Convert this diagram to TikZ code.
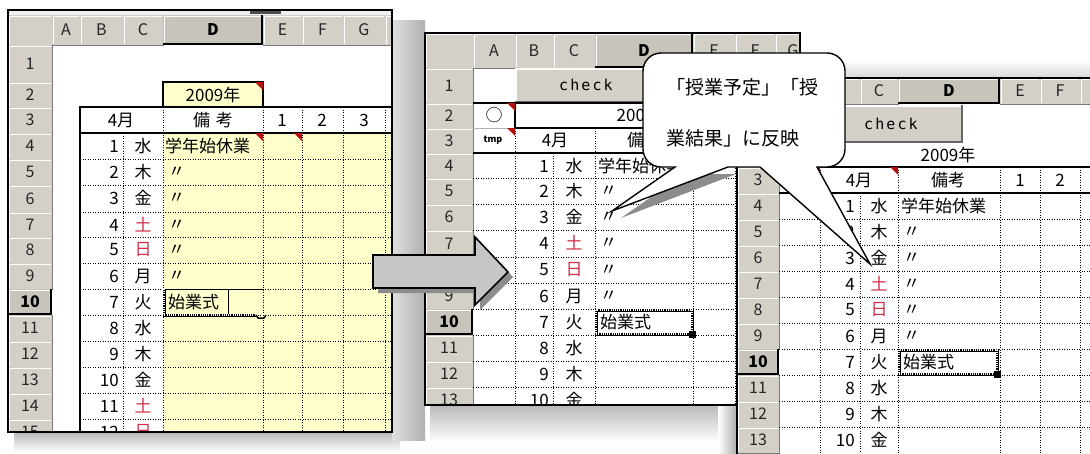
\documentclass[tikz,border=0pt]{standalone}
\usepackage{fontspec}
\setmainfont{Noto Sans CJK JP}
\newfontfamily\jp{Noto Sans CJK JP}
\newfontfamily\monof[LetterSpace=14]{DejaVu Sans Mono}
\definecolor{hdr}{HTML}{D4D0C8}
\definecolor{hdrsel}{HTML}{C8C4BC}
\definecolor{hdrdk}{HTML}{7A7A7A}
\definecolor{cellyel}{HTML}{FFFFCC}
\definecolor{dayred}{HTML}{D0304A}
\definecolor{cmt}{HTML}{B81010}
\definecolor{arrowfill}{HTML}{C6C6C6}
\tikzset{
  hdrtxt/.style={font=\jp\fontsize{16}{16}\selectfont, inner sep=0pt, text=black!85},
  hdrseltxt/.style={font=\jp\bfseries\fontsize{16}{16}\selectfont, inner sep=0pt},
  celltxt/.style={font=\jp\fontsize{17}{17}\selectfont, inner sep=0pt},
  btntxt/.style={font=\monof\fontsize{15}{15}\selectfont, inner sep=0pt},
  dotg/.style={line width=0.9pt, dash pattern=on 0.9pt off 1.6pt},
  selout/.style={line width=3pt, black},
  selin/.style={line width=1.2pt, white, dash pattern=on 1pt off 1.2pt},
  solidg/.style={line width=1.3pt},
  frame/.style={line width=1.6pt},
  callouttxt/.style={font=\jp\fontsize{19}{19}\selectfont, inner sep=0pt, anchor=west},
}
\newcommand\hcell[6]{%
  \fill[hdr] (#1,#2) rectangle (#3,#4);
  \draw[white,line width=1pt] (#1+1,#4-1) -- (#1+1,#2+1) -- (#3-1,#2+1);
  \draw[hdrdk,line width=0.8pt] (#1,#4) -- (#3,#4) -- (#3,#2);
  \node[hdrtxt] (#5) at ({(#1+#3)/2},{(#2+#4)/2}) {#6};}
\newcommand\hselcell[6]{%
  \fill[hdrsel] (#1,#2) rectangle (#3,#4);
  \draw[white,line width=1pt] (#1+1,#4-1) -- (#1+1,#2+1) -- (#3-1,#2+1);
  \draw[black,line width=1.8pt] (#1,#4-0.9) -- (#3-0.9,#4-0.9) -- (#3-0.9,#2);
  \node[hdrseltxt] (#5) at ({(#1+#3)/2},{(#2+#4)/2}) {#6};}
\newcommand\cmtri[2]{\fill[cmt] (#1-8,#2) -- (#1,#2) -- (#1,#2+8) -- cycle;}
\newcommand\btncell[5]{%
  \fill[hdr] (#1,#2) rectangle (#3,#4);
  \draw[white,line width=1.2pt] (#1+1,#4-1) -- (#1+1,#2+1) -- (#3-1,#2+1);
  \draw[black!60,line width=1.4pt] (#1,#4) -- (#3,#4) -- (#3,#2);
  \node[btntxt] (#5) at ({(#1+#3)/2},{(#2+#4)/2}) {check};}
\newcommand\selrect[4]{%
  \draw[selout] (#1,#2) rectangle (#3,#4);
  \draw[selin] (#1,#2) rectangle (#3,#4);
  \fill (#3-3.5,#4-3.5) rectangle (#3+3.5,#4+3.5);}
\begin{document}
\begin{tikzpicture}[x=1pt,y=-1pt]
\useasboundingbox (0,0) rectangle (1090,453);
\clip (0,0) rectangle (1090,453);
\fill[white] (0,0) rectangle (1090,453);

% ---------- shadows ----------
\shade[top color=gray!55,bottom color=white] (14,432) rectangle (400,452);
\shade[left color=gray!25,right color=gray!62] (392,20) rectangle (425,440);
\shade[top color=gray!55,bottom color=white] (430,405) rectangle (737,442);
\shade[left color=white,right color=gray!65] (718,405) rectangle (737,453);
\shade[top color=white,bottom color=gray!30] (800,60) rectangle (1090,78);

% ================= LEFT SHEET =================
\fill[white] (8,10) rectangle (392,432);
\begin{scope}
\clip (8,10) rectangle (392,432);
\fill[gray!12] (8,10) rectangle (392,15);
\fill[black!70] (250,10) rectangle (281,14);
\fill[cellyel] (163,133) rectangle (392,432);
\fill[cellyel] (163,82) rectangle (263,107);
\hcell{8}{15}{52}{45}{L-corner}{}
\foreach \a/\b/\l in {52/80/A,80/123/B,123/163/C,263/302/E,302/343/F,343/385/G}
  {\hcell{\a}{15}{\b}{45}{L-c\l}{\l}}
\hcell{385}{15}{430}{45}{L-cH}{}
\hselcell{163}{15}{263}{45}{L-cD}{D}
\foreach \t/\b/\l in {45/82/1,82/107/2,107/133/3,133/159/4,159/185/5,185/212/6,212/237/7,237/263/8,263/289/9,315/341/11,341/367/12,367/393/13,393/419/14,419/445/15}
  {\hcell{8}{\t}{52}{\b}{L-r\l}{\l}}
\hselcell{8}{289}{52}{315}{L-r10}{10}
% grid
\draw[solidg] (163,107) -- (163,82) -- (263,82) -- (263,107);
\draw[solidg] (80,432) -- (80,107) -- (392,107);
\draw[solidg] (80,133) -- (392,133);
\foreach \x in {163,263,302,343,385} \draw[dotg] (\x,107) -- (\x,432);
\draw[dotg] (123,133) -- (123,432);
\foreach \y in {159,185,212,237,263,289,315,341,367,393,419} \draw[dotg] (80,\y) -- (392,\y);
\cmtri{263}{82}
\cmtri{263}{133}
\cmtri{302}{133}
% texts
\node[celltxt] (L-year) at (213,95) {2009年};
\node[celltxt] (L-month) at (121,120) {4月};
\node[celltxt] (L-note) at (213,120) {備\hspace{6pt}考};
\node[celltxt] (L-h1) at (282,120) {1};
\node[celltxt] (L-h2) at (322,120) {2};
\node[celltxt] (L-h3) at (364,120) {3};
\foreach \t/\d/\w/\c [count=\i] in {133/1/水/black,159/2/木/black,185/3/金/black,212/4/土/dayred,237/5/日/dayred,263/6/月/black,289/7/火/black,315/8/水/black,341/9/木/black,367/10/金/black,393/11/土/dayred,419/12/日/dayred}
  {\node[celltxt,anchor=east] (L-n\i) at (119,\t+13) {\d};
   \node[celltxt,text=\c] (L-w\i) at (143,\t+13) {\w};}
\node[celltxt,anchor=west] (L-e4) at (165,146) {学年始休業};
\foreach \t [count=\i] in {159,185,212,237,263}
  \node[celltxt,anchor=west] (L-dt\i) at (168,\t+13) {〃};
\node[celltxt,anchor=west] (L-e10) at (168,302) {始業式};
\draw[line width=1pt] (163,289.5) -- (263,289.5);
\draw[line width=1pt] (228,289.5) -- (228,315);
\draw[selout] (164,289) -- (164,315) -- (256,315);
\draw[selin] (164,289) -- (164,315) -- (256,315);
\draw[line width=1.5pt] (256,315) -- (258,318) -- (264,318) -- (266,315);
\end{scope}
\draw[frame] (8,10) rectangle (392,432);

% ================= MIDDLE SHEET =================
\fill[white] (425,33) rectangle (800,405);
\begin{scope}
\clip (425,33) rectangle (800,405);
\hcell{425}{33}{473}{68}{M-corner}{}
\foreach \a/\b/\l in {473/515/A,515/553/B,553/595/C,693/735/E,735/775/F,775/811/G}
  {\hcell{\a}{33}{\b}{68}{M-c\l}{\l}}
\hselcell{595}{33}{693}{68}{M-cD}{D}
\foreach \t/\b/\l in {68/103/1,103/128/2,128/153/3,153/178/4,178/204/5,204/230/6,230/257/7,257/283/8,283/309/9,335/361/11,361/387/12,387/413/13}
  {\hcell{425}{\t}{473}{\b}{M-r\l}{\l}}
\hselcell{425}{309}{473}{335}{M-r10}{10}
\btncell{515}{68}{657}{102}{M-check}
% grid
\draw[solidg] (473,103) -- (800,103);
\draw[solidg] (515,103) -- (515,128);
\draw[gray!60,line width=0.8pt] (473,128) -- (515,128);
\draw[solidg] (515,128) -- (800,128);
\draw[solidg] (473,153) -- (800,153);
\foreach \x in {515,595,693,735,775} \draw[dotg] (\x,128) -- (\x,405);
\draw[dotg] (553,153) -- (553,405);
\foreach \y in {178,204,230,257,283,309,335,361,387} \draw[dotg] (473,\y) -- (800,\y);
\cmtri{515}{103}
\cmtri{515}{128}
% texts
\node[celltxt] (M-o) at (494,115) {○};
\node[font=\jp\bfseries\fontsize{9}{9}\selectfont, inner sep=0pt] (M-tmp) at (493,140) {tmp};
\node[celltxt] (M-year) at (644,115) {2009年};
\node[celltxt] (M-month) at (555,140) {4月};
\node[celltxt] (M-note) at (644,140) {備考};
\foreach \t/\d/\w/\c [count=\i] in {153/1/水/black,178/2/木/black,204/3/金/black,230/4/土/dayred,257/5/日/dayred,283/6/月/black,309/7/火/black,335/8/水/black,361/9/木/black,387/10/金/black}
  {\node[celltxt,anchor=east] (M-n\i) at (549,\t+13) {\d};
   \node[celltxt,text=\c] (M-w\i) at (574,\t+13) {\w};}
\node[celltxt,anchor=west] (M-e4) at (598,166) {学年始休業};
\foreach \t [count=\i] in {178,204,230,257,283}
  \node[celltxt,anchor=west] (M-dt\i) at (600,\t+13) {〃};
\node[celltxt,anchor=west] (M-e10) at (600,322) {始業式};
\selrect{596}{310}{692}{334}
\end{scope}
\draw[frame] (425,33) rectangle (800,405);

% ================= ARROW =================
\fill[black!45] (378,260) -- (480,260) -- (480,242) -- (513,277) -- (480,310) -- (480,293) -- (378,293) -- cycle;
\filldraw[fill=arrowfill, draw=black, line width=1.6pt] (373,255) -- (475,255) -- (475,237) -- (508,272) -- (475,305) -- (475,288) -- (373,288) -- cycle;

% ================= RIGHT SHEET =================
\fill[white] (737,78) rectangle (1090,453);
\begin{scope}
\clip (737,78) rectangle (1090,453);
\hcell{737}{78}{779}{104}{R-corner}{}
\hcell{779}{78}{820}{104}{R-cA}{}
\hcell{820}{78}{860}{104}{R-cB}{}
\foreach \a/\b/\l in {860/898/C,1000/1040/E,1040/1080/F}
  {\hcell{\a}{78}{\b}{104}{R-c\l}{\l}}
\hcell{1080}{78}{1120}{104}{R-cG}{}
\hselcell{898}{78}{1000}{104}{R-cD}{D}
\foreach \t/\b/\l in {104/142/1,142/167/2,167/193/3,193/219/4,219/245/5,245/271/6,271/297/7,297/323/8,323/349/9,375/401/11,401/427/12,427/453/13}
  {\hcell{737}{\t}{779}{\b}{R-r\l}{\l}}
\hselcell{737}{349}{779}{375}{R-r10}{10}
\btncell{820}{105}{962}{142}{R-check}
% grid
\draw[solidg] (779,167) -- (1120,167);
\draw[solidg] (779,193) -- (1120,193);
\foreach \x in {820,898,1000,1040,1080} \draw[dotg] (\x,167) -- (\x,453);
\draw[dotg] (860,193) -- (860,453);
\foreach \y in {219,245,271,297,323,349,375,401,427} \draw[dotg] (779,\y) -- (1120,\y);
\cmtri{820}{167}
\cmtri{898}{167}
% texts
\node[celltxt] (R-year) at (948,155) {2009年};
\node[celltxt] (R-month) at (859,180) {4月};
\node[celltxt] (R-note) at (948,180) {備考};
\node[celltxt] (R-h1) at (1020,180) {1};
\node[celltxt] (R-h2) at (1060,180) {2};
\foreach \t/\d/\w/\c [count=\i] in {193/1/水/black,219/2/木/black,245/3/金/black,271/4/土/dayred,297/5/日/dayred,323/6/月/black,349/7/火/black,375/8/水/black,401/9/木/black,427/10/金/black}
  {\node[celltxt,anchor=east] (R-n\i) at (855,\t+13) {\d};
   \node[celltxt,text=\c] (R-w\i) at (879,\t+13) {\w};}
\node[celltxt,anchor=west] (R-e4) at (901,206) {学年始休業};
\foreach \t [count=\i] in {219,245,271,297,323}
  \node[celltxt,anchor=west] (R-dt\i) at (903,\t+13) {〃};
\node[celltxt,anchor=west] (R-e10) at (903,362) {始業式};
\selrect{899}{350}{997}{374}
\end{scope}
\draw[frame] (737,460) -- (737,78) -- (1100,78);

% ================= CALLOUT =================
\fill[black!45] (684,174) -- (736,174) -- (621,218) -- cycle;
\path[draw=black, fill=white, line width=1.4pt] (643,110) [rounded corners=18pt] -- (643,53) -- (845,53) -- (845,167) [sharp corners] -- (817,167) -- (870,264) -- (760,167) -- (728,167) -- (612,211) -- (675,167) [rounded corners=18pt] -- (643,167) -- cycle;
\node[callouttxt] (co-l1) at (666,87) {「授業予定」「授};
\node[callouttxt] (co-l2) at (666,138) {業結果」に反映};
\end{tikzpicture}
\end{document}
